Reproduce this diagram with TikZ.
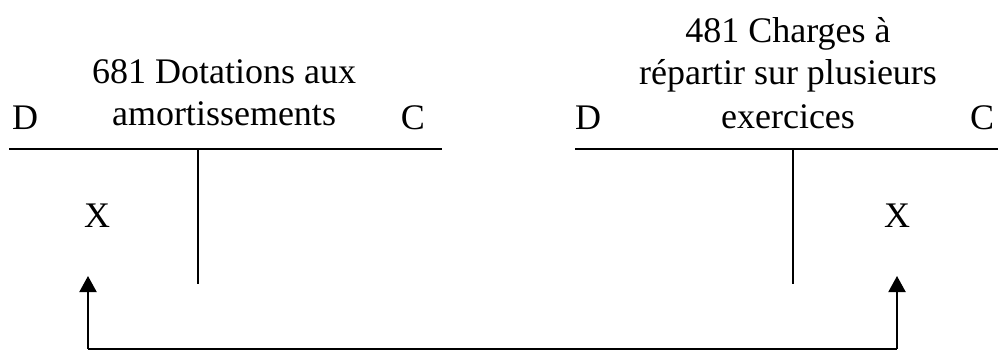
\documentclass[tikz,border=0pt]{standalone}
\usepackage{fontspec}
\setmainfont{Liberation Serif}
\usetikzlibrary{arrows.meta}
\begin{document}
\begin{tikzpicture}[x=1pt,y=-1pt,
  lbl/.style={font=\fontsize{36}{43}\selectfont, inner sep=0pt, anchor=base},
  tline/.style={line width=2pt},
  flow/.style={line width=2pt, -{Triangle[width=17pt,length=16pt]}}]
\useasboundingbox (0,0) rectangle (998,351);
% left T account
\coordinate (lh1) at (9,149);
\coordinate (lh2) at (442,149);
\coordinate (lv1) at (198,149);
\coordinate (lv2) at (198,284);
\draw[tline] (lh1) -- (lh2);
\draw[tline] (lv1) -- (lv2);
\node[lbl] (lD) at (25,129) {D};
\node[lbl] (lC) at (413,129) {C};
\node[lbl] (lt1) at (224,83) {681 Dotations aux};
\node[lbl] (lt2) at (224,125) {amortissements};
\node[lbl] (lX) at (97,227) {X};
% right T account
\coordinate (rh1) at (575,149);
\coordinate (rh2) at (998,149);
\coordinate (rv1) at (793,149);
\coordinate (rv2) at (793,284);
\draw[tline] (rh1) -- (rh2);
\draw[tline] (rv1) -- (rv2);
\node[lbl] (rD) at (588,129) {D};
\node[lbl] (rC) at (982,129) {C};
\node[lbl] (rt1) at (788,42) {481 Charges à};
\node[lbl] (rt2) at (788,84) {répartir sur plusieurs};
\node[lbl] (rt3) at (788,128) {exercices};
\node[lbl] (rX) at (897,227) {X};
% connector
\coordinate (a0) at (88,349);
\coordinate (a1) at (88,276);
\coordinate (b0) at (897,349);
\coordinate (b1) at (897,276);
\draw[line width=1.2pt] (a0) -- (b0);
\draw[flow] (a0) -- (a1);
\draw[flow] (b0) -- (b1);
\end{tikzpicture}
\end{document}
